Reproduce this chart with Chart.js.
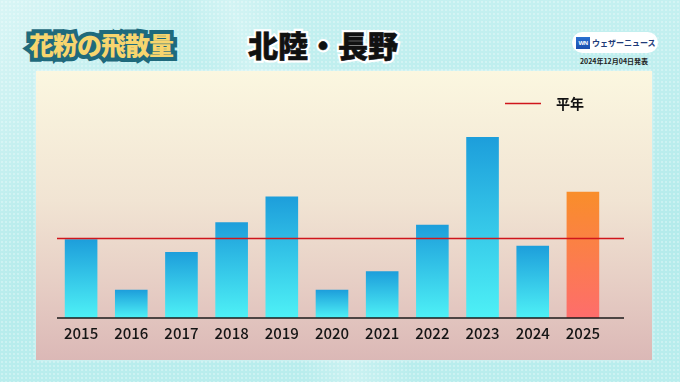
<!DOCTYPE html>
<html>
<head>
<meta charset="utf-8">
<script src="https://cdn.jsdelivr.net/npm/chart.js@4.4.1/dist/chart.umd.min.js"></script>
<style>
  html, body { margin: 0; padding: 0; }
  body {
    width: 680px; height: 382px; position: relative; overflow: hidden;
    font-family: "Noto Sans CJK JP", "Noto Sans", sans-serif;
    background: #b6ecec;
  }
  .bg {
    position: absolute; inset: 0;
    background:
      radial-gradient(circle, rgba(255,255,255,0.28) 0.9px, transparent 1.3px) 0 0 / 4px 4px,
      linear-gradient(120deg, rgba(255,255,255,0.35) 0%, rgba(255,255,255,0) 22%),
      linear-gradient(72deg, rgba(255,255,255,0) 38%, rgba(255,255,255,0.25) 44%, rgba(255,255,255,0) 52%),
      linear-gradient(180deg, #c4f0f0 0%, #b4ebeb 60%, #b9eded 100%);
  }
  .panel {
    position: absolute; left: 36px; top: 71px; width: 616px; height: 289px;
    background: linear-gradient(180deg, #fbf7e0 0%, #f1e4d3 45%, #e6cdc4 75%, #dbb8b6 100%);
    box-shadow: 0 0 3px rgba(255,255,255,0.6);
  }
  .title {
    position: absolute; left: 29px; top: 26px; font-size: 25px; font-weight: 900;
    line-height: 36px; white-space: nowrap; letter-spacing: -1px;
  }
  .title span { position: absolute; left: 0; top: 0; }
  .title .outline { -webkit-text-stroke: 8px #1f6a7c; color: #1f6a7c; }
  .title .fill { color: #f7d56e; }
  .region {
    position: absolute; left: 248px; top: 24px; font-size: 30px; font-weight: 900;
    line-height: 40px; white-space: nowrap;
  }
  .region span { position: absolute; left: 0; top: 0; }
  .region .outline { -webkit-text-stroke: 5px #ffffff; color: #ffffff; }
  .region .fill { color: #111111; -webkit-text-stroke: 0.6px #111; }
  .logo {
    position: absolute; left: 572px; top: 32px; width: 86px; height: 21px;
    background: #ffffff; border-radius: 11px; white-space: nowrap;
    display: flex; align-items: center; gap: 2px; padding-left: 4px; box-sizing: border-box;
  }
  .logo .mark {
    flex: none;
    width: 14px; height: 12px; background: linear-gradient(180deg, #2a6fd0, #1b4fae);
    color: #fff; font: bold 6px "Liberation Sans", sans-serif; line-height: 12px;
    text-align: center; letter-spacing: -0.5px;
  }
  .logo .name { font-size: 8px; font-weight: 700; color: #203a78; letter-spacing: 0; white-space: nowrap; }
  .date {
    position: absolute; left: 575px; top: 56px; width: 78px; text-align: center;
    font-size: 7px; font-weight: 700; color: #222; white-space: nowrap;
  }
  canvas { position: absolute; left: 0; top: 0; }
</style>
</head>
<body>
<div class="bg"></div>
<div class="panel"></div>
<div class="title"><span class="outline">花粉の飛散量</span><span class="fill">花粉の飛散量</span></div>
<div class="region"><span class="outline">北陸・長野</span><span class="fill">北陸・長野</span></div>
<div class="logo"><div class="mark">WN</div><div class="name">ウェザーニュース</div></div>
<div class="date">2024年12月04日発表</div>
<canvas id="chart" width="680" height="382"></canvas>

<script>
// Pollen amount per season, relative to the normal year (= 100)
const years = ['2015', '2016', '2017', '2018', '2019', '2020', '2021', '2022', '2023', '2024', '2025'];
const pollen = [98, 35, 82, 119, 151, 35, 58, 116, 225, 90, 157];
const normalValue = 100;
const normalLabel = '平年';
const forecastYear = '2025';

function barGradient(ctx) {
  const chart = ctx.chart;
  if (!chart.chartArea || ctx.type !== 'data') return '#27a6de';
  const y = chart.scales.y;
  const top = y.getPixelForValue(ctx.raw);
  const base = y.getPixelForValue(0);
  const g = chart.ctx.createLinearGradient(0, top, 0, base);
  if (years[ctx.dataIndex] === forecastYear) {
    g.addColorStop(0, '#f98e2a');
    g.addColorStop(1, '#fe6d6c');
  } else {
    g.addColorStop(0, '#1d9edb');
    g.addColorStop(1, '#4ef1f6');
  }
  return g;
}

// Baseline, normal-year line and its legend entry
const referenceLines = {
  id: 'referenceLines',
  afterDatasetsDraw(chart) {
    const { ctx, chartArea, scales } = chart;
    const left = chartArea.left + 1;
    const right = chartArea.right + 16;
    const yBase = scales.y.getPixelForValue(0);
    const yNormal = Math.round(scales.y.getPixelForValue(normalValue)) + 0.5;
    ctx.save();
    ctx.strokeStyle = '#d0161c';
    ctx.lineWidth = 1.3;
    ctx.beginPath();
    ctx.moveTo(left, yNormal);
    ctx.lineTo(right, yNormal);
    ctx.stroke();

    ctx.strokeStyle = '#1a1a1a';
    ctx.lineWidth = 1.6;
    ctx.beginPath();
    ctx.moveTo(left, yBase);
    ctx.lineTo(right, yBase);
    ctx.stroke();

    // legend
    ctx.strokeStyle = '#d0161c';
    ctx.lineWidth = 1.3;
    ctx.beginPath();
    ctx.moveTo(505, 103.5);
    ctx.lineTo(541, 103.5);
    ctx.stroke();
    ctx.fillStyle = '#111';
    ctx.font = 'bold 14px "Noto Sans CJK JP", sans-serif';
    ctx.textBaseline = 'middle';
    ctx.textAlign = 'left';
    ctx.fillText(normalLabel, 556, 104);
    ctx.restore();
  }
};

new Chart(document.getElementById('chart'), {
  type: 'bar',
  data: {
    labels: years,
    datasets: [{
      label: '飛散量',
      data: pollen,
      backgroundColor: barGradient,
      borderWidth: 0,
      categoryPercentage: 1,
      barPercentage: 0.65
    }]
  },
  options: {
    responsive: false,
    animation: false,
    events: [],
    layout: { padding: { left: 56, right: 72, top: 117, bottom: 24 } },
    plugins: { legend: { display: false }, tooltip: { enabled: false } },
    scales: {
      x: {
        grid: { display: false, drawTicks: false },
        border: { display: false },
        ticks: {
          color: '#151515',
          padding: 6,
          font: { family: '"Noto Sans CJK JP", sans-serif', size: 15, weight: '500' }
        },
        afterFit(scale) { scale.height = 40; }
      },
      y: {
        display: false,
        min: 0,
        max: 250
      }
    }
  },
  plugins: [referenceLines]
});
</script>
</body>
</html>
